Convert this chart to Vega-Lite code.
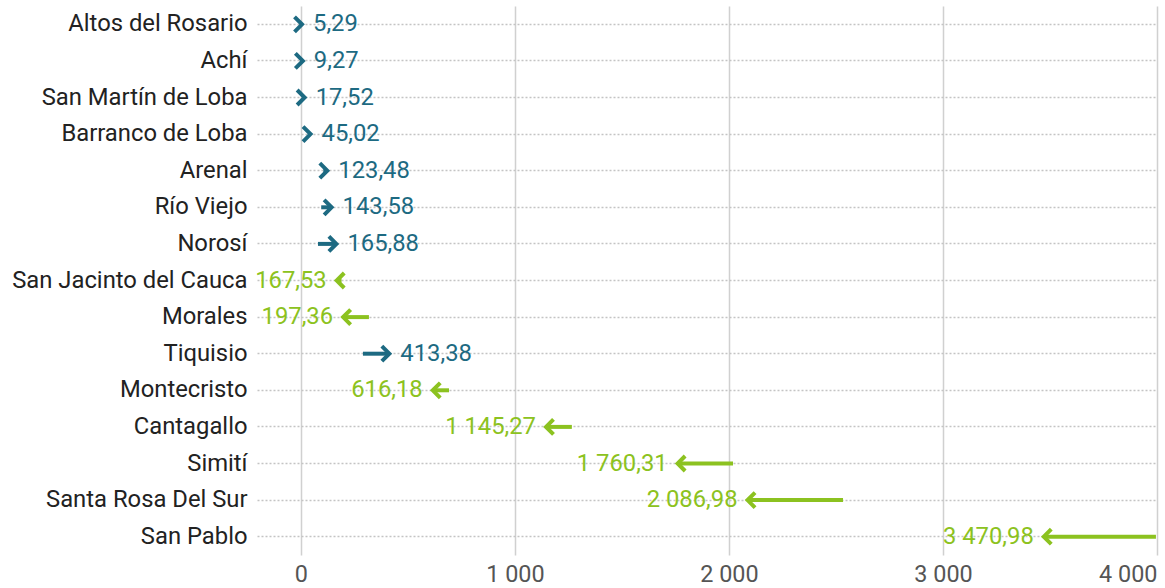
{
  "$schema": "https://vega.github.io/schema/vega-lite/v6.json",
  "autosize": "none",
  "padding": {"left": 257, "top": 6, "right": 8, "bottom": 33},
  "width": 900,
  "height": 549,
  "config": {
    "locale": {"number": {"decimal": ",", "thousands": "\u00a0", "grouping": [3], "currency": ["", ""]}},
    "view": {"stroke": null},
    "font": "Roboto"
  },
  "data": {
    "values": [
      {"name": "Altos del Rosario", "start": 1, "end": 5.29},
      {"name": "Achí", "start": 4, "end": 9.27},
      {"name": "San Martín de Loba", "start": 12, "end": 17.52},
      {"name": "Barranco de Loba", "start": 35, "end": 45.02},
      {"name": "Arenal", "start": 105, "end": 123.48},
      {"name": "Río Viejo", "start": 95, "end": 143.58},
      {"name": "Norosí", "start": 80, "end": 165.88},
      {"name": "San Jacinto del Cauca", "start": 190, "end": 167.53},
      {"name": "Morales", "start": 318, "end": 197.36},
      {"name": "Tiquisio", "start": 290, "end": 413.38},
      {"name": "Montecristo", "start": 692, "end": 616.18},
      {"name": "Cantagallo", "start": 1266, "end": 1145.27},
      {"name": "Simití", "start": 2019, "end": 1760.31},
      {"name": "Santa Rosa Del Sur", "start": 2533, "end": 2086.98},
      {"name": "San Pablo", "start": 3995, "end": 3470.98}
    ]
  },
  "encoding": {
    "y": {
      "field": "name", "type": "nominal", "sort": null, "title": null,
      "scale": {"paddingInner": 0, "paddingOuter": 0},
      "axis": {
        "ticks": false, "domain": false, "labelPadding": 10, "labelLimit": 400,
        "labelFont": "Roboto", "labelFontSize": 23.8, "labelColor": "#222222",
        "grid": true, "gridDash": [2, 2], "gridColor": "#c4c4c4", "gridWidth": 1.5
      }
    }
  },
  "layer": [
    {
      "mark": {"type": "rule", "strokeWidth": 4, "strokeCap": "butt"},
      "encoding": {
        "x": {
          "field": "start", "type": "quantitative",
          "scale": {"domain": [-205, 4000], "nice": false, "zero": false},
          "title": null,
          "axis": {
            "values": [0, 1000, 2000, 3000, 4000], "format": ",.0f",
            "ticks": false, "domain": false, "labelPadding": 8,
            "labelFont": "Roboto", "labelFontSize": 23.4, "labelColor": "#555555",
            "labelAlign": {"condition": {"test": "datum.value == 4000", "value": "right"}, "value": "center"},
            "grid": true, "gridColor": "#d0d0d0", "gridWidth": 1.5
          }
        },
        "x2": {"field": "end"},
        "color": {
          "condition": {"test": "datum.end > datum.start", "value": "#1d6a82"},
          "value": "#8cc220"
        }
      }
    },
    {
      "mark": {"type": "point", "filled": false, "strokeWidth": 4, "size": 225, "opacity": 1, "strokeJoin": "miter", "strokeCap": "butt"},
      "encoding": {
        "x": {"field": "end", "type": "quantitative"},
        "shape": {
          "condition": {"test": "datum.end > datum.start", "value": "M-1,-1L0,0L-1,1"},
          "value": "M1,-1L0,0L1,1"
        },
        "color": {
          "condition": {"test": "datum.end > datum.start", "value": "#1d6a82"},
          "value": "#8cc220"
        }
      }
    },
    {
      "transform": [{"filter": "datum.end > datum.start"}],
      "mark": {"type": "text", "align": "left", "baseline": "middle", "dx": 11, "font": "Roboto", "fontSize": 23.8, "color": "#1d6a82"},
      "encoding": {
        "x": {"field": "end", "type": "quantitative"},
        "text": {"field": "end", "type": "quantitative", "format": ",.2f"}
      }
    },
    {
      "transform": [{"filter": "datum.end <= datum.start"}],
      "mark": {"type": "text", "align": "right", "baseline": "middle", "dx": -10, "font": "Roboto", "fontSize": 23.8, "color": "#8cc220"},
      "encoding": {
        "x": {"field": "end", "type": "quantitative"},
        "text": {"field": "end", "type": "quantitative", "format": ",.2f"}
      }
    }
  ]
}
